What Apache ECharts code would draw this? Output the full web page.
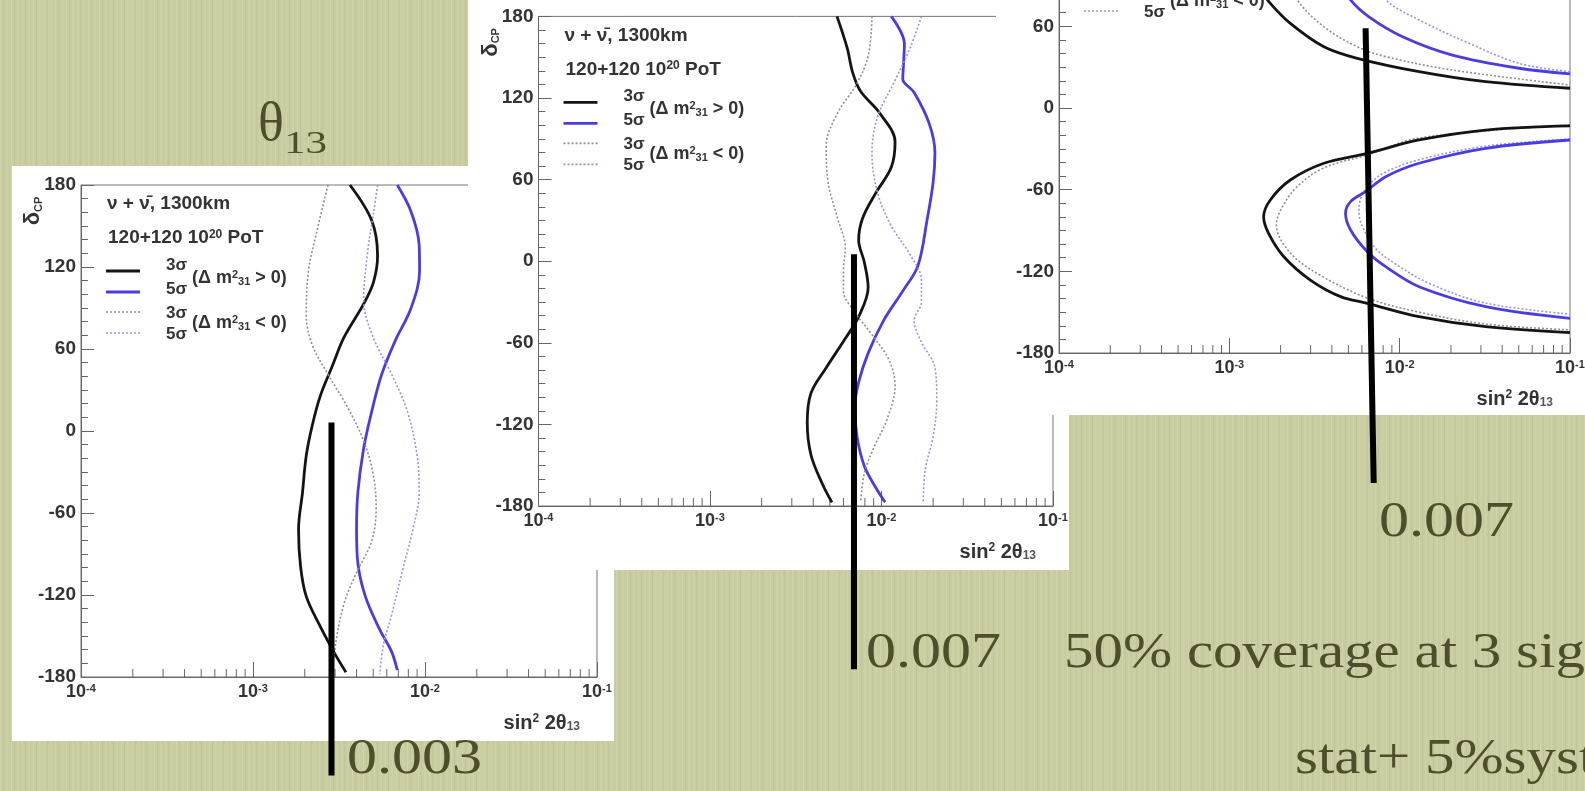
<!DOCTYPE html>
<html><head><meta charset="utf-8">
<script src="https://cdn.jsdelivr.net/npm/echarts@6/dist/echarts.min.js"></script>
<style>
html,body{margin:0;padding:0;overflow:hidden;}
#c{width:1585px;height:791px;background-color:#c9cba0;
background-image:repeating-linear-gradient(90deg, rgba(255,255,235,0.16) 0px, rgba(255,255,235,0.16) 1px, rgba(0,0,0,0) 1px, rgba(0,0,0,0) 3px, rgba(110,110,60,0.07) 3px, rgba(110,110,60,0.07) 4px, rgba(0,0,0,0) 4px, rgba(0,0,0,0) 6px, rgba(255,255,235,0.08) 6px, rgba(255,255,235,0.08) 8px, rgba(0,0,0,0) 8px, rgba(0,0,0,0) 11px);}
</style></head><body><div id="c"></div>
<script>
// ---------------- data ----------------
const yTicks = [-180, -120, -60, 0, 60, 120, 180];
const xDecadeExp = [-4, -3, -2, -1];
const xMinorMult = [2, 3, 4, 5, 6, 7, 8, 9];

// Panel 1 : [sin^2 2theta13, delta_cp]
const p1_3s_pos = [[3.66e-3,180],[4.9e-3,154],[5.3e-3,128],[5.02e-3,109],[4.4e-3,93],[3.38e-3,68.5],[2.88e-3,47],[2.46e-3,25.5],[2.21e-3,4],[2.04e-3,-18],[1.94e-3,-45],[1.84e-3,-72],[1.89e-3,-99],[2.04e-3,-121],[2.46e-3,-143],[2.96e-3,-162],[3.47e-3,-176.5]];
const p1_5s_pos = [[6.9e-3,180],[8.3e-3,160.5],[9.25e-3,136],[9.3e-3,117],[8.3e-3,90],[6.7e-3,65.8],[5.6e-3,41.4],[4.9e-3,14.3],[4.4e-3,-12.7],[4.07e-3,-45],[4.0e-3,-72],[4.07e-3,-96.6],[4.5e-3,-121],[5.44e-3,-145],[6.4e-3,-161.6],[6.9e-3,-175]];
const p1_3s_neg = [[2.73e-3,180],[2.33e-3,144],[2.1e-3,117],[2.04e-3,84.7],[2.21e-3,63],[2.73e-3,41.4],[3.56e-3,17],[4.4e-3,-7.3],[5.0e-3,-31.7],[5.2e-3,-56],[4.9e-3,-80.4],[3.96e-3,-104.8],[3.38e-3,-126.4],[3.04e-3,-153.5],[2.88e-3,-177.9]];
const p1_5s_neg = [[5.3e-3,180],[5.0e-3,158],[4.64e-3,131],[4.4e-3,95.5],[5.0e-3,68.5],[6.4e-3,41.4],[7.9e-3,14.3],[9.0e-3,-18],[9.25e-3,-45],[8.5e-3,-72],[7.5e-3,-99],[6.4e-3,-134.5],[5.74e-3,-156],[5.45e-3,-178]];

// Panel 2
const p2_3s_pos = [[5.5e-3,180],[6.3e-3,157],[6.8e-3,138.5],[7.55e-3,125],[9.75e-3,109],[1.2e-2,87.7],[1.14e-2,69],[9.27e-3,50.2],[7.75e-3,31.4],[7.36e-3,15.4],[7.94e-3,-0.7],[8.36e-3,-19.4],[7.36e-3,-40.8],[6.15e-3,-56.9],[4.76e-3,-78.3],[3.88e-3,-97],[3.69e-3,-118.4],[3.88e-3,-142.5],[4.53e-3,-164],[5.14e-3,-177.3]];
const p2_5s_pos = [[1.14e-2,180],[1.36e-2,160],[1.34e-2,142],[1.33e-2,134],[1.55e-2,124],[1.9e-2,101],[2.05e-2,79.6],[2.0e-2,58],[1.85e-2,31.4],[1.63e-2,-3.4],[1.33e-2,-22],[1.03e-2,-43.5],[8.36e-3,-67.6],[7.36e-3,-89],[6.99e-3,-107.7],[7.2e-3,-129],[7.94e-3,-150.6],[9.27e-3,-166.6],[1.05e-2,-177.3]];
const p2_3s_neg = [[8.8e-3,180],[8.4e-3,152],[7.18e-3,130.5],[5.55e-3,109],[4.76e-3,85],[4.88e-3,58],[5.55e-3,31.4],[6.15e-3,10],[6.0e-3,-6],[6.0e-3,-22],[6.8e-3,-35.5],[8.8e-3,-54],[1.11e-2,-73],[1.2e-2,-91.7],[1.08e-2,-115.8],[9.03e-3,-137],[7.94e-3,-156],[7.55e-3,-177.3]];
const p2_5s_neg = [[1.71e-2,180],[1.47e-2,157],[1.2e-2,133],[9.5e-3,106.4],[8.8e-3,79.6],[9.5e-3,50],[1.14e-2,26],[1.47e-2,4.7],[1.71e-2,-14],[1.71e-2,-30],[1.55e-2,-43.5],[1.71e-2,-59.6],[2.05e-2,-78.3],[2.1e-2,-102.4],[2.0e-2,-129],[1.8e-2,-153],[1.75e-2,-177.3]];

// Panel 3 (two branches per curve)
const p3_3s_pos_up = [[1.58e-3,92],[1.6e-3,84],[1.74e-3,76.9],[2.28e-3,62.2],[3.59e-3,45],[5.64e-3,36.5],[1.3e-2,26.7],[3.2e-2,19.3],[0.1,14.5]];
const p3_3s_pos_lo = [[0.1,-13.2],[3.2e-2,-16.2],[1.3e-2,-23.5],[6.46e-3,-33.3],[3.59e-3,-40.6],[2.28e-3,-52.9],[1.74e-3,-67.6],[1.59e-3,-79.9],[1.7e-3,-92.1],[2.09e-3,-109.3],[2.99e-3,-126.4],[4.5e-3,-138.6],[6.46e-3,-143.5],[1.3e-2,-153.3],[3.2e-2,-160.7],[0.1,-165.1]];
const p3_3s_neg_up = [[2.4e-3,90],[2.5e-3,79.4],[3.59e-3,59.7],[5.64e-3,45],[8.3e-3,37.7],[2.04e-2,27.9],[0.1,16.9]];
const p3_3s_neg_lo = [[0.1,-12.5],[1.3e-2,-22],[6.46e-3,-34.5],[3.59e-3,-44],[2.5e-3,-57.8],[2.0e-3,-75],[1.89e-3,-86],[2.28e-3,-106.5],[3.4e-3,-122.7],[6.46e-3,-139.6],[1.3e-2,-150],[3.2e-2,-158.7],[0.1,-163]];
const p3_5s_pos_up = [[4.8e-3,100],[5.0e-3,86],[5.15e-3,79.4],[6.6e-3,67],[1.04e-2,52.4],[2.04e-2,38.9],[5.03e-2,29.2],[0.1,25]];
const p3_5s_pos_lo = [[0.1,-23.5],[3.2e-2,-29.6],[1.3e-2,-40.6],[8.28e-3,-50.5],[6.3e-3,-61.5],[5.15e-3,-68.8],[4.81e-3,-77.4],[5.15e-3,-89.6],[6.46e-3,-105.6],[8.28e-3,-116.6],[1.3e-2,-131.3],[3.2e-2,-146],[0.1,-154.5]];
const p3_5s_neg_up = [[7.6e-3,92],[8.28e-3,79.4],[1.3e-2,64.7],[2.56e-2,47.5],[5.03e-2,32.8],[0.1,26.7]];
const p3_5s_neg_lo = [[0.1,-22.8],[3.2e-2,-28],[1.3e-2,-38],[8.28e-3,-47],[6.58e-3,-56.6],[5.87e-3,-67.6],[5.77e-3,-77],[6.1e-3,-88],[7.2e-3,-103],[9.46e-3,-114.6],[1.52e-2,-129.3],[3.2e-2,-143.3],[0.1,-151.4]];

// annotation marker lines: [x_top, delta_top, x_bottom, delta_bottom]
const markerLines = [
  [2.86e-3, 6.2, 2.86e-3, -252],
  [6.91e-3, 5.1, 6.91e-3, -300],
  [6.31e-3, 58.6, 7.04e-3, -275.5]
];

// texts
const legendHeader1 = 'ν + ν\u0304, 1300km';
const legendSigma = ['3σ', '5σ', '3σ', '5σ'];
const slideTexts = {
  v1: '0.003', v2: '0.007', v3: '0.007',
  cov: '50% coverage at 3 sig', syst: 'stat+ 5%syst'
};

// ---------------- layout / styles ----------------
const panels = [
  {box:[12,166,602,575], grid:{left:81, top:185, width:516, height:492}},
  {box:[468,0,601,570], grid:{left:538.5, top:16.4, width:514.5, height:489.6}},
  {box:[996,0,589,415], grid:{left:1059, top:-137, width:511, height:490}}
];
const SANS = '"Liberation Sans", "DejaVu Sans", Arial, sans-serif';
const SERIF = '"Liberation Serif", "DejaVu Serif", serif';
const AX = '#666';
const TXT = '#333';
const SLIDE = '#4e4e2c';
const styles = {
  pos3: {color:'#141414', width:2.8, type:'solid'},
  pos5: {color:'#4a3ddf', width:2.8, type:'solid'},
  neg3: {color:'#8e8e8e', width:1.6, type:[2,2]},
  neg5: {color:'#9a90ee', width:1.6, type:[2,2]}
};
const sampleOrder = ['pos3','pos5','neg3','neg5'];

const panelSeries = [
  [[p1_3s_pos,'pos3'],[p1_5s_pos,'pos5'],[p1_3s_neg,'neg3'],[p1_5s_neg,'neg5']],
  [[p2_3s_pos,'pos3'],[p2_5s_pos,'pos5'],[p2_3s_neg,'neg3'],[p2_5s_neg,'neg5']],
  [[p3_3s_neg_up,'neg3'],[p3_3s_neg_lo,'neg3'],[p3_5s_neg_up,'neg5'],[p3_5s_neg_lo,'neg5'],
   [p3_3s_pos_up,'pos3'],[p3_3s_pos_lo,'pos3'],[p3_5s_pos_up,'pos5'],[p3_5s_pos_lo,'pos5']]
];

const minorVals = [];
xDecadeExp.slice(0,3).forEach(e => xMinorMult.forEach(m => minorVals.push([m*Math.pow(10,e), -180])));

const grids = [], xAxes = [], yAxes = [], series = [];
panels.forEach((p, i) => {
  grids.push(Object.assign({show:true, borderColor:'#777', borderWidth:1, backgroundColor:'rgba(0,0,0,0)',
    containLabel:false, outerBoundsMode:'none', zlevel:i, z:3}, p.grid));
  xAxes.push({type:'log', logBase:10, min:Math.pow(10,xDecadeExp[0]), max:Math.pow(10,xDecadeExp[3]), gridIndex:i,
    position:'bottom', zlevel:i, z:3,
    axisLine:{onZero:false, lineStyle:{color:AX, width:1}},
    axisTick:{inside:true, length:15, lineStyle:{color:AX}},
    minorTick:{show:false}, splitLine:{show:false},
    axisLabel:{margin:6, showMinLabel:true, showMaxLabel:true,
      formatter: v => '{b|10}{s|' + Math.round(Math.log10(v)) + '}',
      rich:{b:{fontSize:18, fontWeight:'bold', fontFamily:SANS, color:TXT},
            s:{fontSize:11, fontWeight:'bold', fontFamily:SANS, color:TXT, verticalAlign:'top', lineHeight:6}}}
  });
  yAxes.push({type:'value', min:yTicks[0], max:yTicks[yTicks.length-1], interval:60, gridIndex:i,
    position:'left', zlevel:i, z:3,
    axisLine:{show:true, onZero:false, lineStyle:{color:AX, width:1}},
    axisTick:{show:true, inside:true, length:13, lineStyle:{color:AX}},
    minorTick:{show:true, splitNumber:6, length:7, lineStyle:{color:AX}},
    splitLine:{show:false}, minorSplitLine:{show:false},
    axisLabel:{fontSize:19, fontWeight:'bold', fontFamily:SANS, color:TXT, margin:5, showMinLabel:true, showMaxLabel:true}
  });
  panelSeries[i].forEach(([d, k]) => {
    series.push({type:'line', xAxisIndex:i, yAxisIndex:i, data:d, symbol:'none', showSymbol:false,
      smooth:0.35, zlevel:i, z:4, silent:true, animation:false, clip:true,
      lineStyle:styles[k]});
  });
  series.push({type:'custom', xAxisIndex:i, yAxisIndex:i, data:minorVals, zlevel:i, z:3, silent:true, animation:false,
    renderItem:(params, api) => {
      const c = api.coord([api.value(0), api.value(1)]);
      return {type:'line', shape:{x1:c[0], y1:c[1], x2:c[0], y2:c[1]-8}, style:{stroke:AX, lineWidth:1}};
    }});
});

const chart = echarts.init(document.getElementById('c'), null, {renderer:'canvas'});
chart.setOption({backgroundColor:'transparent', animation:false, grid:grids, xAxis:xAxes, yAxis:yAxes, series:series});

// ---------------- graphics ----------------
const g = [];
panels.forEach((p, i) => {
  const [bx, by, bw, bh] = p.box;
  g.push({type:'rect', shape:{x:bx, y:by, width:bw, height:bh}, style:{fill:'#ffffff'}, zlevel:i, z:0, silent:true});
  const gx = p.grid.left, gy = p.grid.top, gw = p.grid.width, gh = p.grid.height;
  const t = (x, y, text, extra) => g.push(Object.assign({type:'text', x:x, y:y, zlevel:i, z:6, silent:true,
    style:Object.assign({text:text, fontSize:19, fontWeight:'bold', fontFamily:SANS, fill:TXT, align:'left', verticalAlign:'middle'}, extra||{})}));
  t(gx+26, gy+19, legendHeader1);
  t(gx+27, gy+53, '{a|120+120 10}{p|20}{a| PoT}', {rich:{
    a:{fontSize:19, fontWeight:'bold', fontFamily:SANS, fill:TXT},
    p:{fontSize:12, fontWeight:'bold', fontFamily:SANS, fill:TXT, verticalAlign:'top', lineHeight:6}}});
  const rowsY = [86, 107, 127, 148];
  const sigY = [80, 104, 128, 149];
  sampleOrder.forEach((k, r) => {
    const st = styles[k];
    g.push({type:'line', shape:{x1:gx+25, y1:gy+rowsY[r], x2:gx+59, y2:gy+rowsY[r]}, zlevel:i, z:6, silent:true,
      style:{stroke:st.color, lineWidth:st.width, lineDash: st.type === 'solid' ? null : st.type}});
    t(gx+85, gy+sigY[r], legendSigma[r], {fontSize:17});
  });
  const dm = (sign) => '{a|(Δ m}{p|2}{b|31}{a| ' + sign + ' 0)}';
  const dmRich = {a:{fontSize:18, fontWeight:'bold', fontFamily:SANS, fill:TXT},
                  p:{fontSize:11, fontWeight:'bold', fontFamily:SANS, fill:TXT, verticalAlign:'top', lineHeight:6},
                  b:{fontSize:11, fontWeight:'bold', fontFamily:SANS, fill:TXT, verticalAlign:'bottom', lineHeight:2}};
  t(gx+111, gy+93, dm('>'), {rich:dmRich});
  t(gx+111, gy+138, dm('<'), {rich:dmRich});
  // axis titles
  t(gx+gw-17, gy+gh+46, '{a|sin}{p|2}{a| 2θ}{b|13}', {align:'right', rich:{
    a:{fontSize:20, fontWeight:'bold', fontFamily:SANS, fill:TXT},
    p:{fontSize:12, fontWeight:'bold', fontFamily:SANS, fill:TXT, verticalAlign:'top', lineHeight:6},
    b:{fontSize:12, fontWeight:'bold', fontFamily:SANS, fill:'#555', verticalAlign:'bottom', lineHeight:2}}});
  g.push({type:'text', x:gx-48, y:gy+26, rotation:Math.PI/2, zlevel:i, z:6, silent:true,
    style:{text:'{a|δ}{b|CP}', align:'center', verticalAlign:'middle', rich:{
      a:{fontSize:22, fontWeight:'bold', fontFamily:SANS, fill:TXT},
      b:{fontSize:11, fontWeight:'bold', fontFamily:SANS, fill:TXT, verticalAlign:'bottom', lineHeight:2}}}});
  // marker line
  const m = markerLines[i];
  const a = chart.convertToPixel({gridIndex:i}, [m[0], m[1]]);
  const b = chart.convertToPixel({gridIndex:i}, [m[2], m[3]]);
  g.push({type:'line', shape:{x1:a[0], y1:a[1], x2:b[0], y2:b[1]}, zlevel:i, z:20, silent:true,
    style:{stroke:'#000', lineWidth:6}});
});

// slide texts (old-style serif look: horizontally widened Liberation Serif)
const st = (x, y, text, size, sx) => g.push({type:'text', x:x, y:y, scaleX:sx, scaleY:1, zlevel:0, z:8, silent:true,
  style:{text:text, fontSize:size, fontFamily:SERIF, fill:SLIDE, align:'left', verticalAlign:'middle'}});
st(258, 126, 'θ', 54, 1.0);
st(284, 145, '13', 32, 1.35);
st(347, 760, slideTexts.v1, 50, 1.2);
st(866, 654, slideTexts.v2, 50, 1.2);
st(1064, 654, slideTexts.cov, 50, 1.18);
st(1379, 523, slideTexts.v3, 50, 1.2);
st(1295, 760, slideTexts.syst, 50, 1.18);

chart.setOption({graphic:{elements:g}});
</script></body></html>
